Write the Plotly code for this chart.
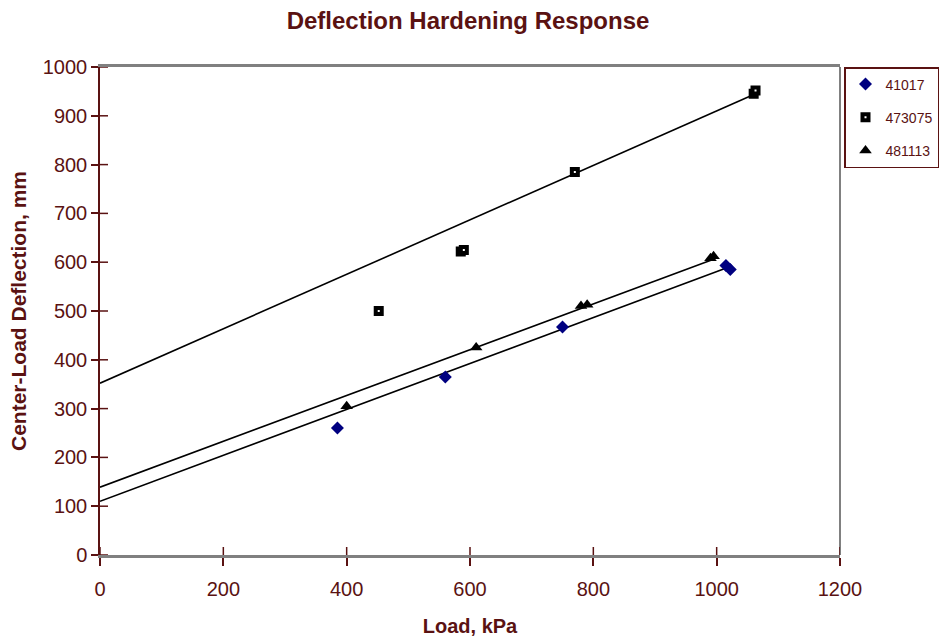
import plotly.graph_objects as go

# Data
load_41017 = [385, 560, 750, 1015, 1022]
defl_41017 = [260, 365, 467, 593, 585]
load_473075 = [452, 585, 590, 770, 1060, 1063]
defl_473075 = [500, 622, 625, 785, 945, 952]
load_481113 = [400, 610, 780, 790, 990, 995]
defl_481113 = [305, 425, 510, 513, 608, 612]

# Linear trend lines (start/end load, start/end deflection)
trend_41017_x = [0, 1020]
trend_41017_y = [110, 590]
trend_473075_x = [0, 1063]
trend_473075_y = [352, 945]
trend_481113_x = [0, 995]
trend_481113_y = [139, 606]

x_ticks = [0, 200, 400, 600, 800, 1000, 1200]
y_ticks = [0, 100, 200, 300, 400, 500, 600, 700, 800, 900, 1000]

DARK = "#5a1212"
GRAY = "#808080"
FONT = "Liberation Sans, Arial, sans-serif"

fig = go.Figure()

for tx, ty in [(trend_473075_x, trend_473075_y), (trend_481113_x, trend_481113_y), (trend_41017_x, trend_41017_y)]:
    fig.add_trace(go.Scatter(x=tx, y=ty, mode="lines", line=dict(color="black", width=1.6),
                             showlegend=False, hoverinfo="skip"))

fig.add_trace(go.Scatter(x=load_41017, y=defl_41017, mode="markers", name="41017", legendgroup="a",
                         marker=dict(symbol="diamond", color="#000080", size=10)))
fig.add_trace(go.Scatter(x=load_473075, y=defl_473075, mode="markers", name="473075", legendgroup="b",
                         marker=dict(symbol="square", color="white", size=6, line=dict(color="black", width=4))))
fig.add_trace(go.Scatter(x=load_481113, y=defl_481113, mode="markers", name="481113", legendgroup="c",
                         marker=dict(symbol="triangle-up", color="black", size=11)))

# paper area spans x 100..940 px; axis domain ends at 840 px
PAPER_W = 840.0
XDOM_END = 740.0 / PAPER_W

fig.update_layout(
    width=941, height=638,
    margin=dict(l=100, r=1, t=67, b=83, autoexpand=False),
    paper_bgcolor="white", plot_bgcolor="white",
    font=dict(family=FONT, color=DARK, size=20),
    title=dict(text="<b>Deflection Hardening Response</b>", xref="paper", x=(468 - 100) / PAPER_W,
               xanchor="center", y=0.968, yanchor="middle",
               font=dict(size=24, color=DARK, family=FONT)),
    legend=dict(x=(939 - 100) / PAPER_W, xanchor="right", y=1.0, yanchor="top",
                bordercolor=DARK, borderwidth=1.5, bgcolor="white",
                font=dict(size=14, color=DARK, family=FONT),
                tracegroupgap=12, itemwidth=30),
    showlegend=True,
)

fig.update_xaxes(
    domain=[0, XDOM_END], automargin=False,
    range=[0, 1200], tickvals=x_ticks, ticktext=[str(v) for v in x_ticks],
    showgrid=False, zeroline=False,
    showline=True, linecolor=GRAY, linewidth=2.5, mirror=True,
    ticks="outside", ticklen=8, tickcolor=DARK, tickwidth=1.5,
    ticklabelstandoff=6,
    tickfont=dict(size=20, color=DARK),
    title=dict(text="<b>Load, kPa</b>", font=dict(size=20, color=DARK), standoff=21),
)
fig.update_yaxes(
    automargin=False,
    range=[0, 1000], tickvals=y_ticks, ticktext=[str(v) for v in y_ticks],
    showgrid=False, zeroline=False,
    showline=True, linecolor=DARK, linewidth=1.5, mirror=False,
    ticks="outside", ticklen=7, tickcolor=DARK, tickwidth=1.5,
    tickfont=dict(size=20, color=DARK),
    title=dict(text="<b>Center-Load Deflection, mm</b>", font=dict(size=21, color=DARK), standoff=10),
)

# right border of plot area (gray)
fig.add_shape(type="line", xref="x domain", yref="y domain", x0=1, x1=1, y0=0, y1=1,
              line=dict(color=GRAY, width=2))

# inner halves of the "cross" tick marks
for xv in x_ticks:
    fig.add_shape(type="line", xref="x", yref="y", ysizemode="pixel", yanchor=0,
                  x0=xv, x1=xv, y0=0, y1=8, line=dict(color=DARK, width=1.5))
for yv in y_ticks:
    fig.add_shape(type="line", xref="x", yref="y", xsizemode="pixel", xanchor=0,
                  x0=0, x1=8, y0=yv, y1=yv, line=dict(color=DARK, width=1.5))

fig.write_html("out.html")
